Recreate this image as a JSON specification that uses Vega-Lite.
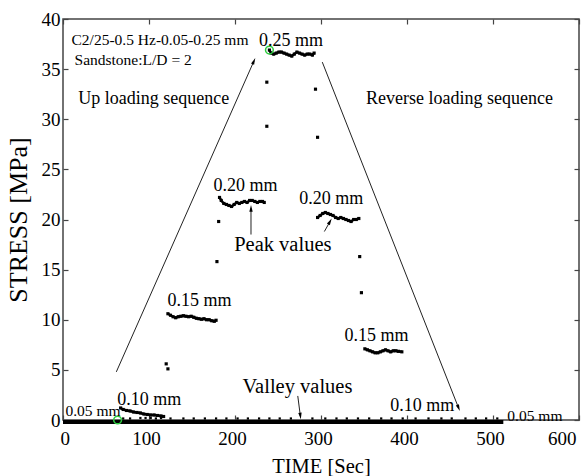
{
  "$schema": "https://vega.github.io/schema/vega-lite/v6.json",
  "width": 516,
  "height": 401,
  "autosize": "none",
  "padding": {"left": 63, "top": 19, "right": 7, "bottom": 56},
  "background": "white",
  "config": {
    "view": {"stroke": "#444", "strokeWidth": 1.5},
    "font": "Liberation Serif",
    "axis": {
      "grid": false, "domain": false, "tickColor": "#444", "tickSize": -5, "tickWidth": 1.2,
      "labelFont": "Liberation Serif", "labelFontSize": 19, "labelColor": "black",
      "titleFont": "Liberation Serif", "titleFontWeight": "normal", "titleColor": "black"
    }
  },
  "datasets": {
    "valley": [
      {"t": 0, "s": -0.2}, {"t": 16, "s": -0.2}, {"t": 32, "s": -0.2}, {"t": 48, "s": -0.2},
      {"t": 64, "s": -0.2}, {"t": 80, "s": -0.2}, {"t": 96, "s": -0.2}, {"t": 112, "s": -0.2},
      {"t": 128, "s": -0.2}, {"t": 144, "s": -0.2}, {"t": 160, "s": -0.2}, {"t": 176, "s": -0.2},
      {"t": 192, "s": -0.2}, {"t": 208, "s": -0.2}, {"t": 224, "s": -0.2}, {"t": 240, "s": -0.2},
      {"t": 256, "s": -0.2}, {"t": 272, "s": -0.2}, {"t": 288, "s": -0.2}, {"t": 304, "s": -0.2},
      {"t": 320, "s": -0.2}, {"t": 336, "s": -0.2}, {"t": 352, "s": -0.2}, {"t": 368, "s": -0.2},
      {"t": 384, "s": -0.2}, {"t": 400, "s": -0.2}, {"t": 416, "s": -0.2}, {"t": 432, "s": -0.2},
      {"t": 448, "s": -0.2}, {"t": 464, "s": -0.2}, {"t": 480, "s": -0.2}, {"t": 496, "s": -0.2},
      {"t": 512, "s": -0.2}
    ],
    "dashes": [
      {"t": 70, "s": 0.15}, {"t": 78, "s": 0.15}, {"t": 90, "s": 0.2}, {"t": 96, "s": 0.2},
      {"t": 102, "s": 0.2}, {"t": 108, "s": 0.15}, {"t": 114, "s": 0.2}, {"t": 125, "s": 0.15},
      {"t": 140, "s": 0.15}, {"t": 152, "s": 0.15}, {"t": 165, "s": 0.15}, {"t": 178, "s": 0.15},
      {"t": 190, "s": 0.15}, {"t": 203, "s": 0.15}, {"t": 215, "s": 0.15}, {"t": 228, "s": 0.15},
      {"t": 240, "s": 0.15}, {"t": 252, "s": 0.15}, {"t": 265, "s": 0.15}, {"t": 290, "s": 0.15},
      {"t": 305, "s": 0.15}, {"t": 318, "s": 0.15}, {"t": 330, "s": 0.15}, {"t": 343, "s": 0.15},
      {"t": 356, "s": 0.15}, {"t": 370, "s": 0.15}, {"t": 382, "s": 0.15}, {"t": 395, "s": 0.15},
      {"t": 410, "s": 0.15}, {"t": 425, "s": 0.15}, {"t": 440, "s": 0.15}, {"t": 452, "s": 0.15},
      {"t": 468, "s": 0.15}, {"t": 480, "s": 0.15}, {"t": 492, "s": 0.15}, {"t": 505, "s": 0.15}
    ],
    "curve": [
      {"seg": "up010", "t": 67, "s": 1.2}, {"seg": "up010", "t": 70, "s": 1.05}, {"seg": "up010", "t": 74, "s": 0.95},
      {"seg": "up010", "t": 78, "s": 0.9}, {"seg": "up010", "t": 82, "s": 0.8}, {"seg": "up010", "t": 86, "s": 0.75},
      {"seg": "up010", "t": 90, "s": 0.7}, {"seg": "up010", "t": 94, "s": 0.6}, {"seg": "up010", "t": 98, "s": 0.55},
      {"seg": "up010", "t": 102, "s": 0.5}, {"seg": "up010", "t": 106, "s": 0.5}, {"seg": "up010", "t": 110, "s": 0.45},
      {"seg": "up010", "t": 114, "s": 0.4}, {"seg": "up010", "t": 117, "s": 0.35},
      {"seg": "p1", "t": 120, "s": 5.6}, {"seg": "p2", "t": 122, "s": 5.1},
      {"seg": "up015", "t": 122, "s": 10.6}, {"seg": "up015", "t": 125, "s": 10.45}, {"seg": "up015", "t": 128, "s": 10.3},
      {"seg": "up015", "t": 131, "s": 10.2}, {"seg": "up015", "t": 134, "s": 10.3}, {"seg": "up015", "t": 137, "s": 10.35},
      {"seg": "up015", "t": 140, "s": 10.4}, {"seg": "up015", "t": 143, "s": 10.35}, {"seg": "up015", "t": 146, "s": 10.3},
      {"seg": "up015", "t": 149, "s": 10.35}, {"seg": "up015", "t": 152, "s": 10.25}, {"seg": "up015", "t": 155, "s": 10.15},
      {"seg": "up015", "t": 158, "s": 10.1}, {"seg": "up015", "t": 161, "s": 10.05}, {"seg": "up015", "t": 164, "s": 10.1},
      {"seg": "up015", "t": 167, "s": 10.0}, {"seg": "up015", "t": 170, "s": 10.0}, {"seg": "up015", "t": 173, "s": 9.9},
      {"seg": "up015", "t": 176, "s": 9.85}, {"seg": "up015", "t": 178, "s": 9.95},
      {"seg": "p3", "t": 179, "s": 15.8}, {"seg": "p4", "t": 181, "s": 19.8},
      {"seg": "up020", "t": 182, "s": 22.2}, {"seg": "up020", "t": 184, "s": 21.9}, {"seg": "up020", "t": 187, "s": 21.6},
      {"seg": "up020", "t": 190, "s": 21.5}, {"seg": "up020", "t": 193, "s": 21.4}, {"seg": "up020", "t": 196, "s": 21.3},
      {"seg": "up020", "t": 199, "s": 21.5}, {"seg": "up020", "t": 202, "s": 21.7}, {"seg": "up020", "t": 205, "s": 21.6},
      {"seg": "up020", "t": 208, "s": 21.7}, {"seg": "up020", "t": 211, "s": 21.8}, {"seg": "up020", "t": 214, "s": 21.7},
      {"seg": "up020", "t": 217, "s": 21.9}, {"seg": "up020", "t": 220, "s": 21.9}, {"seg": "up020", "t": 223, "s": 21.8},
      {"seg": "up020", "t": 226, "s": 21.7}, {"seg": "up020", "t": 229, "s": 21.8}, {"seg": "up020", "t": 232, "s": 21.8},
      {"seg": "up020", "t": 234, "s": 21.7},
      {"seg": "p5", "t": 237, "s": 29.3}, {"seg": "p6", "t": 237, "s": 33.7},
      {"seg": "up025", "t": 240, "s": 36.9}, {"seg": "up025", "t": 242, "s": 36.6}, {"seg": "up025", "t": 245, "s": 36.5},
      {"seg": "up025", "t": 248, "s": 36.6}, {"seg": "up025", "t": 251, "s": 36.7}, {"seg": "up025", "t": 254, "s": 36.7},
      {"seg": "up025", "t": 257, "s": 36.6}, {"seg": "up025", "t": 260, "s": 36.5}, {"seg": "up025", "t": 263, "s": 36.4},
      {"seg": "up025", "t": 266, "s": 36.3}, {"seg": "up025", "t": 269, "s": 36.5}, {"seg": "up025", "t": 272, "s": 36.7},
      {"seg": "up025", "t": 275, "s": 36.6}, {"seg": "up025", "t": 278, "s": 36.5}, {"seg": "up025", "t": 281, "s": 36.4},
      {"seg": "up025", "t": 284, "s": 36.5}, {"seg": "up025", "t": 287, "s": 36.5}, {"seg": "up025", "t": 290, "s": 36.4},
      {"seg": "up025", "t": 292, "s": 36.6},
      {"seg": "p7", "t": 293.6, "s": 33.0}, {"seg": "p8", "t": 296, "s": 28.2},
      {"seg": "dn020", "t": 296, "s": 20.2}, {"seg": "dn020", "t": 299, "s": 20.4}, {"seg": "dn020", "t": 302, "s": 20.6},
      {"seg": "dn020", "t": 305, "s": 20.7}, {"seg": "dn020", "t": 308, "s": 20.6}, {"seg": "dn020", "t": 311, "s": 20.5},
      {"seg": "dn020", "t": 314, "s": 20.4}, {"seg": "dn020", "t": 317, "s": 20.2}, {"seg": "dn020", "t": 320, "s": 20.1},
      {"seg": "dn020", "t": 323, "s": 20.2}, {"seg": "dn020", "t": 326, "s": 20.1}, {"seg": "dn020", "t": 329, "s": 20.0},
      {"seg": "dn020", "t": 332, "s": 19.9}, {"seg": "dn020", "t": 335, "s": 19.8}, {"seg": "dn020", "t": 338, "s": 20.0},
      {"seg": "dn020", "t": 341, "s": 20.0}, {"seg": "dn020", "t": 344, "s": 20.1},
      {"seg": "p9", "t": 345, "s": 16.3}, {"seg": "p10", "t": 347, "s": 12.7},
      {"seg": "dn015", "t": 351, "s": 7.1}, {"seg": "dn015", "t": 354, "s": 7.0}, {"seg": "dn015", "t": 357, "s": 6.9},
      {"seg": "dn015", "t": 360, "s": 6.8}, {"seg": "dn015", "t": 363, "s": 6.7}, {"seg": "dn015", "t": 366, "s": 6.7},
      {"seg": "dn015", "t": 369, "s": 6.8}, {"seg": "dn015", "t": 372, "s": 6.9}, {"seg": "dn015", "t": 375, "s": 7.0},
      {"seg": "dn015", "t": 378, "s": 6.9}, {"seg": "dn015", "t": 381, "s": 6.8}, {"seg": "dn015", "t": 384, "s": 6.9},
      {"seg": "dn015", "t": 387, "s": 6.9}, {"seg": "dn015", "t": 390, "s": 6.85}, {"seg": "dn015", "t": 394, "s": 6.8}
    ],
    "markers": [
      {"t": 63.5, "s": 0.0}, {"t": 240, "s": 36.9}
    ],
    "arrows": [
      {"name": "up", "t": 62, "s": 4.8, "t2": 222, "s2": 35.8},
      {"name": "reverse", "t": 301.5, "s": 35.7, "t2": 460, "s2": 1.2},
      {"name": "peak1", "t": 218.6, "s": 18.5, "t2": 218.6, "s2": 21.1},
      {"name": "peak2", "t": 303.9, "s": 18.8, "t2": 310.5, "s2": 19.8},
      {"name": "valley", "t": 273, "s": 2.4, "t2": 276, "s2": 0.4}
    ],
    "labels": [
      {"label": "C2/25-0.5 Hz-0.05-0.25 mm", "t": 9.9, "s": 37.9, "kind": "note"},
      {"label": "Sandstone:L/D = 2", "t": 13.4, "s": 35.9, "kind": "note"},
      {"label": "Up loading sequence", "t": 17.7, "s": 32.0, "kind": "level"},
      {"label": "Reverse loading sequence", "t": 352.4, "s": 32.0, "kind": "level"},
      {"label": "0.25 mm", "t": 228, "s": 37.8, "kind": "level"},
      {"label": "0.20 mm", "t": 175, "s": 23.3, "kind": "level"},
      {"label": "Peak values", "t": 199, "s": 17.5, "kind": "big"},
      {"label": "0.20 mm", "t": 274.7, "s": 22.0, "kind": "level"},
      {"label": "0.15 mm", "t": 121.4, "s": 11.9, "kind": "level"},
      {"label": "0.15 mm", "t": 327.2, "s": 8.4, "kind": "level"},
      {"label": "0.10 mm", "t": 63.1, "s": 2.0, "kind": "level"},
      {"label": "0.05 mm", "t": 2.9, "s": 0.9, "kind": "note"},
      {"label": "Valley values", "t": 208.8, "s": 3.3, "kind": "big"},
      {"label": "0.10 mm", "t": 380.4, "s": 1.4, "kind": "level"},
      {"label": "0.05 mm", "t": 516.7, "s": 0.35, "kind": "note"}
    ]
  },
  "layer": [
    {
      "data": {"name": "valley"},
      "mark": {"type": "line", "color": "black", "strokeWidth": 4},
      "encoding": {
        "x": {"field": "t", "type": "quantitative", "scale": {"domain": [0, 600], "nice": false},
              "axis": {"orient": "bottom", "values": [0, 100, 200, 300, 400, 500, 600], "title": "TIME [Sec]",
                       "labelFont": "Liberation Serif", "titleFont": "Liberation Serif",
                       "titleFontSize": 20.5, "labelPadding": 14, "labelOffset": -3, "titlePadding": 8}},
        "y": {"field": "s", "type": "quantitative", "scale": {"domain": [0, 40], "nice": false},
              "axis": {"orient": "left", "values": [0, 5, 10, 15, 20, 25, 30, 35, 40], "title": "STRESS [MPa]",
                       "labelFont": "Liberation Serif", "titleFont": "Liberation Serif",
                       "titleFontSize": 26, "labelPadding": 8, "titlePadding": 10}}
      }
    },
    {
      "data": {"name": "valley"},
      "mark": {"type": "point", "opacity": 0},
      "encoding": {
        "x": {"field": "t", "type": "quantitative",
              "axis": {"orient": "top", "values": [0, 100, 200, 300, 400, 500, 600], "labels": false, "title": null}},
        "y": {"field": "s", "type": "quantitative",
              "axis": {"orient": "right", "values": [0, 5, 10, 15, 20, 25, 30, 35, 40], "labels": false, "title": null}}
      }
    },
    {
      "data": {"name": "curve"},
      "mark": {"type": "line", "color": "black", "strokeWidth": 2.5},
      "encoding": {
        "x": {"field": "t", "type": "quantitative", "axis": null},
        "y": {"field": "s", "type": "quantitative", "axis": null},
        "detail": {"field": "seg"}
      }
    },
    {
      "data": {"name": "curve"},
      "mark": {"type": "point", "shape": "square", "filled": true, "color": "black", "size": 10, "opacity": 1},
      "encoding": {
        "x": {"field": "t", "type": "quantitative", "axis": null},
        "y": {"field": "s", "type": "quantitative", "axis": null}
      }
    },
    {
      "data": {"name": "dashes"},
      "mark": {"type": "point", "shape": "square", "filled": true, "color": "black", "size": 5, "opacity": 1},
      "encoding": {
        "x": {"field": "t", "type": "quantitative", "axis": null},
        "y": {"field": "s", "type": "quantitative", "axis": null}
      }
    },
    {
      "data": {"name": "markers"},
      "mark": {"type": "point", "shape": "circle", "filled": false, "color": "#2ecc40", "size": 60, "strokeWidth": 1.5, "opacity": 1},
      "encoding": {
        "x": {"field": "t", "type": "quantitative", "axis": null},
        "y": {"field": "s", "type": "quantitative", "axis": null}
      }
    },
    {
      "data": {"name": "arrows"},
      "mark": {"type": "rule", "color": "#222", "strokeWidth": 1},
      "encoding": {
        "x": {"field": "t", "type": "quantitative", "axis": null},
        "y": {"field": "s", "type": "quantitative", "axis": null},
        "x2": {"field": "t2"},
        "y2": {"field": "s2"}
      }
    },
    {
      "data": {"name": "arrows"},
      "transform": [
        {"calculate": "atan2((datum.t2 - datum.t) * 0.86, (datum.s2 - datum.s) * 10.025) * 180 / PI", "as": "angle"}
      ],
      "mark": {"type": "point", "shape": "M-0.5,1L0,-1L0.5,1Z", "filled": true, "color": "black", "size": 45, "opacity": 1},
      "encoding": {
        "x": {"field": "t2", "type": "quantitative", "axis": null},
        "y": {"field": "s2", "type": "quantitative", "axis": null},
        "angle": {"field": "angle", "type": "quantitative", "scale": null}
      }
    },
    {
      "data": {"name": "labels"},
      "mark": {"type": "text", "align": "left", "baseline": "middle", "font": "Liberation Serif", "color": "black"},
      "encoding": {
        "x": {"field": "t", "type": "quantitative", "axis": null},
        "y": {"field": "s", "type": "quantitative", "axis": null},
        "text": {"field": "label"},
        "size": {"field": "kind", "type": "nominal", "scale": {"type": "ordinal", "domain": ["note", "level", "big"], "range": [15.5, 18, 20.5]}, "legend": null}
      }
    }
  ],
  "resolve": {"axis": {"x": "independent", "y": "independent"}}
}
